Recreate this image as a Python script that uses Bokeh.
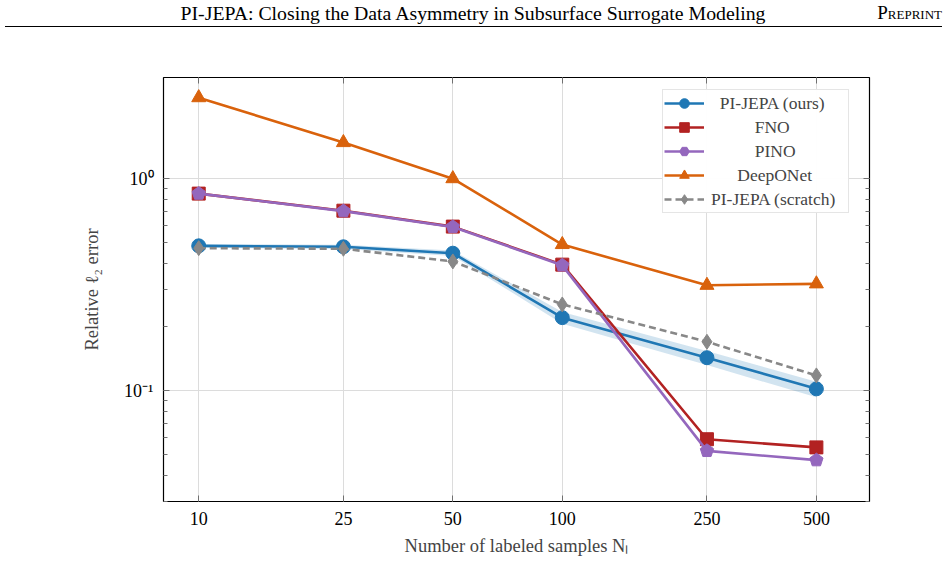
from bokeh.plotting import figure
from bokeh.models import (FixedTicker, LogAxis, Legend, LegendItem, Div, Range1d,
                          NumeralTickFormatter)
from bokeh.layouts import column
from bokeh.embed import file_html
from bokeh.resources import INLINE

# Relative l2 error versus number of labeled samples
n_labeled = [10, 25, 50, 100, 250, 500]
pijepa = [0.482, 0.477, 0.445, 0.221, 0.143, 0.102]
pijepa_lo = [0.472, 0.466, 0.432, 0.207, 0.132, 0.093]
pijepa_hi = [0.492, 0.488, 0.458, 0.235, 0.154, 0.110]
fno = [0.850, 0.706, 0.594, 0.393, 0.059, 0.054]
pino = [0.850, 0.703, 0.592, 0.390, 0.052, 0.047]
deeponet = [2.41, 1.48, 1.00, 0.489, 0.314, 0.319]
pijepa_scratch = [0.470, 0.467, 0.407, 0.255, 0.170, 0.118]

series_names = ["PI-JEPA (ours)", "FNO", "PINO", "DeepONet", "PI-JEPA (scratch)"]

x_ticks = [10, 25, 50, 100, 250, 500]
y_major = [0.1, 1.0]
y_minor = [0.03, 0.04, 0.05, 0.06, 0.07, 0.08, 0.09,
           0.2, 0.3, 0.4, 0.5, 0.6, 0.7, 0.8, 0.9]
y_labels = {0.1: "10\u207b\u00b9", 1.0: "10\u2070"}

FONT = "Liberation Serif"
BLUE = "#1f77b4"
RED = "#b22222"
PURPLE = "#9467bd"
ORANGE = "#d9620c"
GRAY = "#888888"
TICK = "#707070"

# Times/Liberation Serif advance widths (per 1000 em) for centring legend labels
_W = {"P": 556, "I": 333, "-": 333, "J": 389, "E": 611, "A": 722, " ": 250, "(": 333,
      ")": 333, "o": 500, "u": 500, "r": 333, "s": 389, "F": 556, "N": 722, "O": 722,
      "D": 722, "e": 444, "p": 500, "t": 278, "c": 444, "a": 444, "h": 500}


def centred(label, width_em):
    w = sum(_W.get(ch, 500) for ch in label) / 1000.0
    pad = int(round((width_em - w) / 2 / 0.25))
    return "\u00a0" * pad + label


widest = max(sum(_W.get(ch, 500) for ch in s) / 1000.0 for s in series_names)
legend_labels = [centred(s, widest) for s in series_names]

header = Div(
    text=(
        '<div style="position:relative;width:948px;height:30px;'
        'font-family:\'Liberation Serif\';color:#000;line-height:24px;">'
        '<span style="position:absolute;left:473px;top:1px;transform:translateX(-50%);'
        'white-space:nowrap;font-size:19.8px;">'
        'PI-JEPA: Closing the Data Asymmetry in Subsurface Surrogate Modeling</span>'
        '<span style="position:absolute;right:6px;top:1px;white-space:nowrap;'
        'font-size:19px;font-variant:small-caps;">Preprint</span>'
        '<div style="position:absolute;left:5px;right:6px;top:26px;'
        'border-top:1px solid #000;"></div></div>'
    ),
    width=948, height=30, margin=0,
)

p = figure(
    width=948, height=532,
    x_axis_type="log", y_axis_type="log",
    x_range=Range1d(8, 700), y_range=Range1d(0.03, 3.0),
    output_backend="svg", toolbar_location=None,
    min_border_left=163, min_border_right=79,
    min_border_top=47, min_border_bottom=61,
    background_fill_color="white", border_fill_color="white",
)
p.outline_line_color = "black"
p.outline_line_width = 1.2
p.outline_line_alpha = 1.0


def style_axis(ax, show_labels=True):
    ax.axis_line_color = None
    ax.major_tick_in = 6
    ax.major_tick_out = 0
    ax.minor_tick_in = 4
    ax.minor_tick_out = 0
    ax.major_tick_line_color = TICK
    ax.minor_tick_line_color = TICK
    ax.major_label_text_font = FONT
    ax.major_label_text_font_size = "18px"
    ax.major_label_text_color = "black" if show_labels else None
    ax.major_label_standoff = 10


# bottom x axis
xax = p.xaxis[0]
xax.ticker = FixedTicker(ticks=x_ticks)
xax.formatter = NumeralTickFormatter(format="0")
style_axis(xax)
xax.axis_label = "Number of labeled samples N\u2097"
xax.axis_label_text_font = FONT
xax.axis_label_text_font_size = "18.5px"
xax.axis_label_text_font_style = "normal"
xax.axis_label_standoff = 8

# left y axis
yax = p.yaxis[0]
yax.ticker = FixedTicker(ticks=y_major, minor_ticks=y_minor)
yax.major_label_overrides = y_labels
style_axis(yax)
yax.axis_label = "Relative \u2113\u2082 error"
yax.axis_label_text_font = FONT
yax.axis_label_text_font_size = "18.5px"
yax.axis_label_text_font_style = "normal"
yax.axis_label_standoff = 19

# mirrored ticks on top and right
top_ax = LogAxis(ticker=FixedTicker(ticks=x_ticks))
style_axis(top_ax, show_labels=False)
p.add_layout(top_ax, "above")
right_ax = LogAxis(ticker=FixedTicker(ticks=y_major, minor_ticks=y_minor))
style_axis(right_ax, show_labels=False)
p.add_layout(right_ax, "right")

p.xgrid.ticker = FixedTicker(ticks=x_ticks)
p.ygrid.ticker = FixedTicker(ticks=y_major)
for g in (p.xgrid, p.ygrid):
    g.grid_line_color = "#dcdcdc"
    g.grid_line_width = 1

# uncertainty band for PI-JEPA
p.varea(x=n_labeled, y1=pijepa_lo, y2=pijepa_hi, fill_color=BLUE, fill_alpha=0.2)

lw = 2.6
items = []

l1 = p.line(n_labeled, pijepa, line_color=BLUE, line_width=lw)
m1 = p.scatter(n_labeled, pijepa, marker="circle", size=14, fill_color=BLUE, line_color=BLUE)
items.append(LegendItem(label=legend_labels[0], renderers=[l1, m1]))

l2 = p.line(n_labeled, fno, line_color=RED, line_width=lw)
m2 = p.scatter(n_labeled, fno, marker="square", size=13, fill_color=RED, line_color=RED)
items.append(LegendItem(label=legend_labels[1], renderers=[l2, m2]))

l3 = p.line(n_labeled, pino, line_color=PURPLE, line_width=lw)
if hasattr(p, "ngon"):
    p.ngon(n_labeled, pino, radius=7, radius_units="screen", n=5,
           fill_color=PURPLE, line_color=PURPLE)
    # hexagon stand-in used only for the legend key
    m3 = p.scatter(n_labeled, pino, marker="hex", size=13, fill_color=PURPLE,
                   line_color=PURPLE, visible=False)
else:
    m3 = p.scatter(n_labeled, pino, marker="hex", size=13, fill_color=PURPLE, line_color=PURPLE)
items.append(LegendItem(label=legend_labels[2], renderers=[l3, m3]))

l4 = p.line(n_labeled, deeponet, line_color=ORANGE, line_width=lw)
m4 = p.scatter(n_labeled, deeponet, marker="triangle", size=14, fill_color=ORANGE, line_color=ORANGE)
items.append(LegendItem(label=legend_labels[3], renderers=[l4, m4]))

l5 = p.line(n_labeled, pijepa_scratch, line_color=GRAY, line_width=lw, line_dash="7 4")
m5 = p.scatter(n_labeled, pijepa_scratch, marker="diamond", size=15, fill_color=GRAY, line_color=GRAY)
items.append(LegendItem(label=legend_labels[4], renderers=[l5, m5]))

legend = Legend(items=items, location=(499, 288))
legend.margin = 0
legend.padding = 1
legend.spacing = 0
legend.glyph_width = 40
legend.glyph_height = 24
legend.label_height = 18
legend.label_width = 136
legend.label_standoff = 7
legend.label_text_font = FONT
legend.label_text_font_size = "17.5px"
legend.border_line_color = "#cccccc"
legend.border_line_width = 1
legend.background_fill_alpha = 0.95
legend.inactive_fill_alpha = 0.0
p.add_layout(legend)

layout = column(header, p, spacing=0)
open("out.html", "w").write(file_html(layout, INLINE))
